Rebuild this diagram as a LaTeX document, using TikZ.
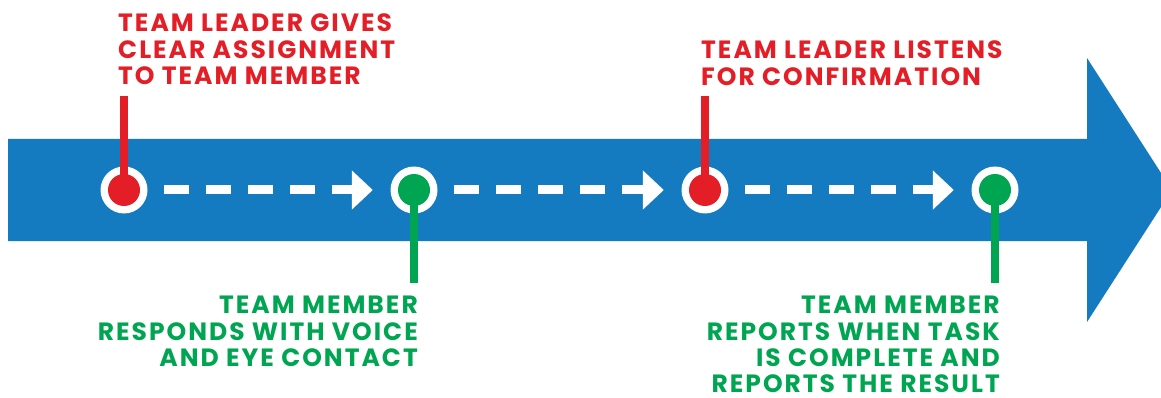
\documentclass[tikz,border=0pt]{standalone}
\usepackage{fontspec}
\setmainfont{Poppins}[LetterSpace=8]
\usetikzlibrary{arrows.meta, positioning}
\definecolor{bandblue}{RGB}{20,123,192}
\definecolor{leadred}{RGB}{227,30,38}
\definecolor{membergreen}{RGB}{0,165,81}
\tikzstyle{ring} = [circle, fill=white, minimum size=47pt, inner sep=0pt]
\tikzstyle{leaderdot} = [circle, fill=leadred, minimum size=32pt, inner sep=0pt]
\tikzstyle{memberdot} = [circle, fill=membergreen, minimum size=32pt, inner sep=0pt]
\tikzstyle{leadertext} = [text=leadred, font=\fontsize{25}{26.3}\selectfont\bfseries, align=left, anchor=north west, inner sep=0pt]
\tikzstyle{membertext} = [text=membergreen, font=\fontsize{25}{26.3}\selectfont\bfseries, align=right, anchor=north east, inner sep=0pt]
\tikzstyle{stem} = [line width=8pt]
\tikzstyle{arrow} = [white, line width=9pt, dash pattern=on 25pt off 17pt, shorten <=16.5pt, shorten >=17.5pt, -{Triangle[length=21pt, width=38pt]}]

\begin{document}
\begin{tikzpicture}[x=1pt, y=-1pt]
\clip (0,0) rectangle (1161,398);

% Band
\fill[bandblue] (8,139) -- (1087,139) -- (1087,58) -- (1172,190) -- (1087,322) -- (1087,241) -- (8,241) -- cycle;

% Nodes
\node (ring1) [ring] at (124,190) {};
\node (ring2) [ring] at (414,190) {};
\node (ring3) [ring] at (705,190) {};
\node (ring4) [ring] at (995,190) {};
\node (dot1) [leaderdot] at (ring1) {};
\node (dot2) [memberdot] at (ring2) {};
\node (dot3) [leaderdot] at (ring3) {};
\node (dot4) [memberdot] at (ring4) {};

\node (gives) [leadertext] at (118,14) {TEAM LEADER GIVES\\CLEAR ASSIGNMENT\\TO TEAM MEMBER};
\node (responds) [membertext] at (418,296) {TEAM MEMBER\\RESPONDS WITH VOICE\\AND EYE CONTACT};
\node (listens) [leadertext] at (701,41) {TEAM LEADER LISTENS\\FOR CONFIRMATION};
\node (reports) [membertext] at (1000,296) {TEAM MEMBER\\REPORTS WHEN TASK\\IS COMPLETE AND\\REPORTS THE RESULT};

\coordinate (top1) at (124,96);
\coordinate (bot2) at (414,283);
\coordinate (top3) at (705,96);
\coordinate (bot4) at (995,283);

% Stems
\draw [stem, leadred] (top1) -- (dot1.center);
\draw [stem, membergreen] (dot2.center) -- (bot2);
\draw [stem, leadred] (top3) -- (dot3.center);
\draw [stem, membergreen] (dot4.center) -- (bot4);

% Arrows
\draw [arrow] (ring1) -- (ring2);
\draw [arrow] (ring2) -- (ring3);
\draw [arrow] (ring3) -- (ring4);

\end{tikzpicture}
\end{document}
